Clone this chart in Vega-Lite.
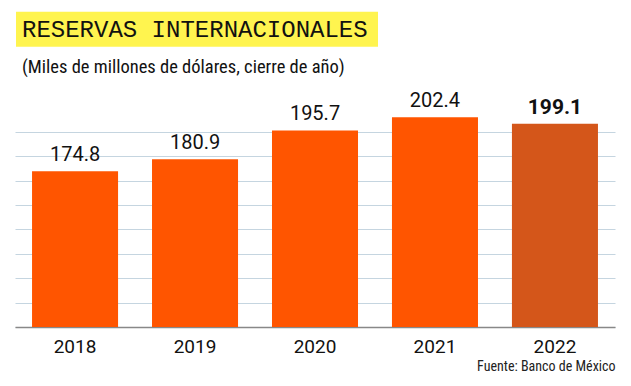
{
  "$schema": "https://vega.github.io/schema/vega-lite/v6.json",
  "autosize": {"type": "none"},
  "width": 600,
  "height": 244,
  "padding": {"left": 15, "top": 83, "right": 16, "bottom": 59},
  "background": "white",
  "title": {
    "text": "RESERVAS INTERNACIONALES",
    "subtitle": "(Miles de millones de dólares, cierre de año)",
    "anchor": "start",
    "frame": "group",
    "font": "Liberation Mono, DejaVu Sans Mono, monospace",
    "fontSize": 24,
    "fontWeight": "normal",
    "color": "#111111",
    "dx": 7,
    "dy": 69,
    "subtitleFont": "Roboto Condensed, Liberation Sans Narrow, DejaVu Sans Condensed, Roboto, sans-serif",
    "subtitleFontSize": 18.5,
    "subtitleColor": "#111111",
    "subtitlePadding": 16,
    "offset": 4
  },
  "data": {
    "values": [
      {"anio": "2018", "reservas": 174.8},
      {"anio": "2019", "reservas": 180.9},
      {"anio": "2020", "reservas": 195.7},
      {"anio": "2021", "reservas": 202.4},
      {"anio": "2022", "reservas": 199.1}
    ]
  },
  "config": {"view": {"stroke": null}},
  "layer": [
    {
      "mark": {"type": "rect", "color": "#FFF44F"},
      "encoding": {
        "x": {"value": 1},
        "x2": {"value": 363},
        "y": {"value": -71.3},
        "y2": {"value": -36.3}
      },
      "data": {"values": [{"caja": "titulo"}]}
    },
    {
      "mark": {"type": "bar"},
      "encoding": {
        "x": {
          "field": "anio",
          "type": "ordinal",
          "scale": {"paddingInner": 0.283, "paddingOuter": 0.142},
          "axis": {
            "title": "Fuente: Banco de México",
            "titleAnchor": "end",
            "titleAlign": "right",
            "titleFont": "Roboto Condensed, Liberation Sans Narrow, Roboto, sans-serif",
            "titleFontSize": 14,
            "titleFontWeight": "normal",
            "titleColor": "#222222",
            "titlePadding": 3,
            "labelAngle": 0,
            "labelFont": "Roboto, sans-serif",
            "labelFontSize": 19,
            "labelColor": "#111111",
            "labelPadding": 10,
            "ticks": false,
            "domainColor": "#888888",
            "domainWidth": 1.5,
            "grid": false
          }
        },
        "y": {
          "field": "reservas",
          "type": "quantitative",
          "scale": {"domain": [95, 220], "zero": false, "nice": false, "clamp": true},
          "axis": {
            "title": null,
            "labels": false,
            "ticks": false,
            "domain": false,
            "grid": true,
            "gridColor": "#C5D5E0",
            "gridWidth": 1,
            "tickCount": 30,
            "values": [95, 107.5, 120, 132.5, 145, 157.5, 170, 182.5, 195]
          }
        },
        "color": {
          "condition": {"test": "datum.anio === '2022'", "value": "#D4561A"},
          "value": "#FF5500"
        }
      }
    },
    {
      "transform": [{"filter": "datum.anio !== '2022'"}],
      "mark": {"type": "text", "baseline": "alphabetic", "dy": -10, "font": "Roboto, sans-serif", "fontSize": 20, "color": "#111111"},
      "encoding": {
        "x": {"field": "anio", "type": "ordinal"},
        "y": {"field": "reservas", "type": "quantitative"},
        "text": {"field": "reservas", "type": "quantitative", "format": ".1f"}
      }
    },
    {
      "transform": [{"filter": "datum.anio === '2022'"}],
      "mark": {"type": "text", "baseline": "alphabetic", "dy": -10, "font": "Roboto, sans-serif", "fontWeight": "bold", "fontSize": 21, "color": "#111111"},
      "encoding": {
        "x": {"field": "anio", "type": "ordinal"},
        "y": {"field": "reservas", "type": "quantitative"},
        "text": {"field": "reservas", "type": "quantitative", "format": ".1f"}
      }
    }
  ]
}
